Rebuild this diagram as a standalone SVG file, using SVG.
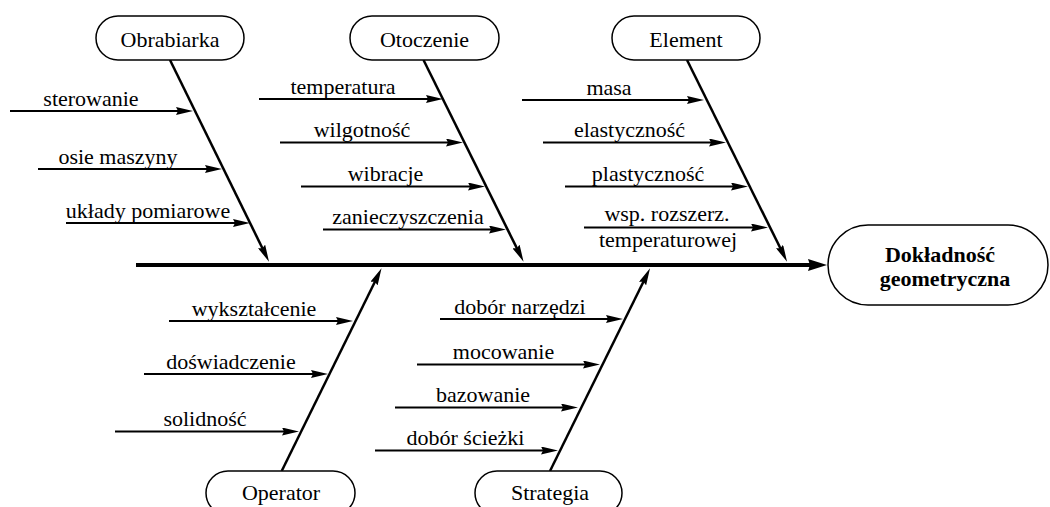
<svg xmlns="http://www.w3.org/2000/svg" width="1050" height="507" viewBox="0 0 1050 507">
<style>
text{font-family:"Liberation Serif","Times New Roman",serif;font-size:22px;fill:#000;text-anchor:middle}
.box{fill:#fff;stroke:#000;stroke-width:1.5}
.sub{stroke:#000;stroke-width:2;fill:none;marker-end:url(#ah)}
.bone{stroke:#000;stroke-width:2.5;fill:none;marker-end:url(#ah)}
.spine{stroke:#000;stroke-width:4;fill:none;marker-end:url(#big)}
.bold{font-weight:bold}
</style>
<defs>
<marker id="ah" markerUnits="userSpaceOnUse" markerWidth="17" markerHeight="8" refX="9" refY="4" orient="auto" viewBox="0 0 17 8">
<polygon points="0,0 17,4 0,8 2,4" fill="#000"/>
</marker>
<marker id="big" markerUnits="userSpaceOnUse" markerWidth="19" markerHeight="12" refX="9" refY="6" orient="auto" viewBox="0 0 19 12">
<polygon points="0,0 19,6 0,12 2,6" fill="#000"/>
</marker>
</defs>
<g id="connectors">
<line class="spine" x1="136" y1="265" x2="817" y2="265"/>
<line class="bone" x1="170" y1="60" x2="265.5" y2="254.5"/>
<line class="bone" x1="423.5" y1="60" x2="520" y2="254.5"/>
<line class="bone" x1="687" y1="60" x2="783.5" y2="254.5"/>
<line class="bone" x1="281.7" y1="471" x2="378" y2="275.5"/>
<line class="bone" x1="550" y1="471" x2="646.5" y2="275.5"/>
<line class="sub" x1="10" y1="111" x2="185" y2="111"/>
<line class="sub" x1="38" y1="169" x2="214" y2="169"/>
<line class="sub" x1="66" y1="223" x2="242" y2="223"/>
<line class="sub" x1="259" y1="99" x2="435" y2="99"/>
<line class="sub" x1="280" y1="142.5" x2="455" y2="142.5"/>
<line class="sub" x1="301" y1="186.5" x2="477" y2="186.5"/>
<line class="sub" x1="323" y1="229.5" x2="498" y2="229.5"/>
<line class="sub" x1="522" y1="100" x2="696" y2="100"/>
<line class="sub" x1="543" y1="142.5" x2="718" y2="142.5"/>
<line class="sub" x1="565" y1="186.5" x2="740" y2="186.5"/>
<line class="sub" x1="584" y1="227.5" x2="760" y2="227.5"/>
<line class="sub" x1="169" y1="321" x2="345" y2="321"/>
<line class="sub" x1="144" y1="374" x2="320" y2="374"/>
<line class="sub" x1="115" y1="431.5" x2="291" y2="431.5"/>
<line class="sub" x1="440" y1="319" x2="615" y2="319"/>
<line class="sub" x1="417" y1="364.5" x2="592" y2="364.5"/>
<line class="sub" x1="395" y1="407.5" x2="570" y2="407.5"/>
<line class="sub" x1="375" y1="450.5" x2="550" y2="450.5"/>
</g>
<g id="labels">
<text x="91" y="106">sterowanie</text>
<text x="118" y="164">osie maszyny</text>
<text x="148" y="218">układy pomiarowe</text>
<text x="343" y="93.5">temperatura</text>
<text x="362" y="137">wilgotność</text>
<text x="385.5" y="181">wibracje</text>
<text x="408" y="224">zanieczyszczenia</text>
<text x="609" y="94.5">masa</text>
<text x="629.5" y="137">elastyczność</text>
<text x="648" y="181">plastyczność</text>
<text x="667" y="221">wsp. rozszerz.</text>
<text x="668" y="247">temperaturowej</text>
<text x="254" y="315.5">wykształcenie</text>
<text x="231" y="368.5">doświadczenie</text>
<text x="205" y="426">solidność</text>
<text x="520" y="313.5">dobór narzędzi</text>
<text x="503.5" y="359">mocowanie</text>
<text x="483" y="402">bazowanie</text>
<text x="465.5" y="445">dobór ścieżki</text>
</g>
<g id="node-obrabiarka">
<rect class="box" x="96" y="16" width="148" height="44" rx="22"/>
<text x="170" y="46.5">Obrabiarka</text>
</g>
<g id="node-otoczenie">
<rect class="box" x="350" y="16" width="149" height="44" rx="22"/>
<text x="424.5" y="46.5">Otoczenie</text>
</g>
<g id="node-element">
<rect class="box" x="612" y="16" width="148" height="44" rx="22"/>
<text x="686" y="46.5">Element</text>
</g>
<g id="node-operator">
<rect class="box" x="206" y="471" width="149" height="44" rx="22"/>
<text x="281" y="500">Operator</text>
</g>
<g id="node-strategia">
<rect class="box" x="475" y="471" width="147" height="44" rx="22"/>
<text x="550" y="500">Strategia</text>
</g>
<g id="node-dokladnosc">
<rect class="box" x="828" y="225" width="220" height="80" rx="40"/>
<text class="bold" x="940" y="262">Dokładność</text>
<text class="bold" x="945" y="286">geometryczna</text>
</g>
</svg>
